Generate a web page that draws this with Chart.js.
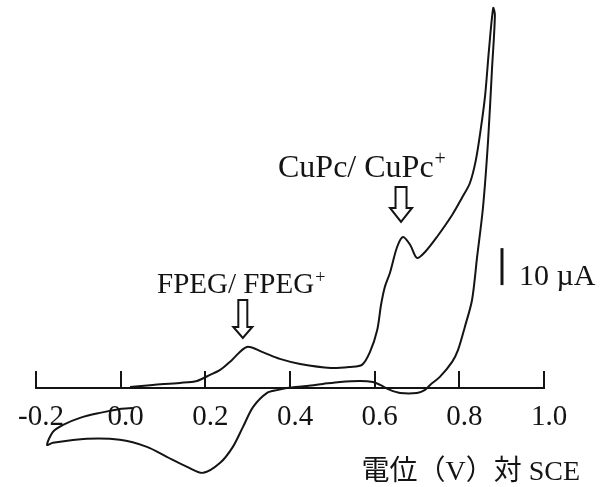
<!DOCTYPE html>
<html>
<head>
<meta charset="utf-8">
<script src="https://cdn.jsdelivr.net/npm/chart.js@4.4.1/dist/chart.umd.min.js"></script>
<style>
  html, body { margin: 0; padding: 0; background: #ffffff; }
  #wrap { width: 610px; height: 487px; position: relative; }
</style>
</head>
<body>
<div id="wrap"><canvas id="c" width="610" height="487"></canvas></div>
<script>
// Potential (V vs SCE) along the scan, in order
const potential = [
  0.022, 0.076, 0.140, 0.180, 0.211, 0.235, 0.263, 0.298, 0.334, 0.376,
  0.424, 0.497, 0.542, 0.570, 0.589, 0.606, 0.615, 0.624, 0.636, 0.653,
  0.667, 0.684, 0.700, 0.719, 0.747, 0.783, 0.806, 0.825, 0.839, 0.851,
  0.861, 0.870, 0.880,
  0.884, 0.877, 0.868, 0.856, 0.842, 0.830, 0.813, 0.797, 0.783, 0.754,
  0.731, 0.719, 0.700, 0.660, 0.636, 0.613, 0.596, 0.565, 0.518, 0.478,
  0.440, 0.393, 0.372, 0.346, 0.313, 0.289, 0.265, 0.235, 0.195, 0.157,
  0.109, 0.062, -0.002, -0.080, -0.160, -0.174,
  -0.160, -0.136, -0.096, -0.049, -0.002, 0.029
];
// Current (µA) at each point
const current = [
  0.27, 0.81, 1.35, 1.89, 3.51, 4.86, 7.57, 11.08, 9.73, 7.84,
  6.49, 5.41, 5.68, 6.22, 9.73, 15.68, 22.43, 27.30, 31.08, 38.11,
  40.81, 38.65, 35.14, 36.76, 40.81, 46.76, 51.35, 55.41, 61.60, 70.30,
  79.20, 91.40, 102.70,
  100.80, 85.90, 67.03, 48.92, 35.41, 23.78, 16.49, 10.27, 7.03, 2.97,
  0.81, -0.54, -1.35, -1.35, -0.54, 0.81, 1.62, 1.89, 1.62, 1.08,
  0.54, 0.00, -0.54, -1.35, -5.14, -10.54, -15.95, -20.27, -22.97, -21.35,
  -18.65, -15.95, -14.05, -13.78, -14.86, -15.41,
  -11.89, -10.00, -8.11, -6.76, -5.68, -5.41
];
const tickValues = [-0.2, 0.0, 0.2, 0.4, 0.6, 0.8, 1.0];
const tickLabels = ['-0.2', '0.0', '0.2', '0.4', '0.6', '0.8', '1.0'];
const xTitle = '電位（V）対 SCE';
const peakTexts = ['FPEG/ FPEG', 'CuPc/ CuPc'];
const peakSup = ['+', '+'];
const peakV = [0.298, 0.667];
const peakI = [11.08, 40.81];
const scaleBarValue = 10; // µA
const scaleBarLabel = '10 µA';

const points = potential.map((v, k) => ({ x: v, y: current[k] }));

const INK = '#141414';
const SERIF = "'Liberation Serif', 'DejaVu Serif', serif";

function downArrow(ctx, tipX, tipY, shaftW, shaftH, headW, headH) {
  ctx.beginPath();
  ctx.moveTo(tipX - shaftW / 2, tipY - headH - shaftH);
  ctx.lineTo(tipX + shaftW / 2, tipY - headH - shaftH);
  ctx.lineTo(tipX + shaftW / 2, tipY - headH);
  ctx.lineTo(tipX + headW / 2, tipY - headH);
  ctx.lineTo(tipX, tipY);
  ctx.lineTo(tipX - headW / 2, tipY - headH);
  ctx.lineTo(tipX - shaftW / 2, tipY - headH);
  ctx.closePath();
  ctx.stroke();
}

const decor = {
  id: 'decor',
  beforeDatasetsDraw(chart) {
    const ctx = chart.ctx;
    const xs = chart.scales.x, ys = chart.scales.y;
    const y0 = ys.getPixelForValue(0);
    ctx.save();
    ctx.strokeStyle = INK;
    ctx.lineWidth = 2;
    ctx.beginPath();
    ctx.moveTo(xs.getPixelForValue(tickValues[0]) - 1, y0);
    ctx.lineTo(xs.getPixelForValue(tickValues[tickValues.length - 1]) + 1, y0);
    ctx.stroke();
    tickValues.forEach((t) => {
      const px = Math.round(xs.getPixelForValue(t));
      ctx.beginPath();
      ctx.moveTo(px, y0);
      ctx.lineTo(px, y0 - 17);
      ctx.stroke();
    });
    ctx.restore();
  },
  afterDatasetsDraw(chart) {
    const ctx = chart.ctx;
    const xs = chart.scales.x, ys = chart.scales.y;
    const y0 = ys.getPixelForValue(0);
    ctx.save();
    ctx.fillStyle = INK;
    ctx.strokeStyle = INK;
    // tick labels
    ctx.font = '29px ' + SERIF;
    ctx.textAlign = 'center';
    ctx.textBaseline = 'alphabetic';
    tickValues.forEach((t, k) => {
      ctx.fillText(tickLabels[k], xs.getPixelForValue(t) + 5, y0 + 37);
    });
    // axis title
    ctx.font = "28px 'Liberation Serif', 'Noto Sans CJK JP', serif";
    ctx.textAlign = 'right';
    ctx.fillText(xTitle, 580, 480);

    // peak annotations (arrow + label)
    const cfg = [
      { font: 29, dx: -4, tipGap: 9, shaftW: 9, shaftH: 27, headW: 19, headH: 11, textLeft: 157, textBase: 293 },
      { font: 32, dx: -2, tipGap: 15, shaftW: 11, shaftH: 21, headW: 22, headH: 14, textLeft: 278, textBase: 177 }
    ];
    peakTexts.forEach((txt, k) => {
      const c = cfg[k];
      const px = xs.getPixelForValue(peakV[k]) + c.dx;
      const py = ys.getPixelForValue(peakI[k]);
      const tipY = py - c.tipGap;
      ctx.lineWidth = 2;
      downArrow(ctx, px, tipY, c.shaftW, c.shaftH, c.headW, c.headH);
      ctx.textAlign = 'left';
      ctx.font = c.font + 'px ' + SERIF;
      const w = ctx.measureText(txt).width;
      ctx.fillText(txt, c.textLeft, c.textBase);
      ctx.font = Math.round(c.font * 0.62) + 'px ' + SERIF;
      ctx.fillText(peakSup[k], c.textLeft + w + 1, c.textBase - c.font * 0.36);
    });

    // scale bar
    const barX = 502;
    const barBottom = ys.getPixelForValue(27.8);
    const barTop = ys.getPixelForValue(27.8 + scaleBarValue);
    ctx.lineWidth = 3;
    ctx.beginPath();
    ctx.moveTo(barX, barTop);
    ctx.lineTo(barX, barBottom);
    ctx.stroke();
    ctx.font = '30px ' + SERIF;
    ctx.textAlign = 'left';
    ctx.fillText(scaleBarLabel, 519, barBottom);
    ctx.restore();
  }
};

new Chart(document.getElementById('c'), {
  type: 'scatter',
  data: {
    datasets: [{
      data: points,
      showLine: true,
      borderColor: INK,
      borderWidth: 2,
      pointRadius: 0,
      tension: 0.3,
      fill: false,
      clip: false
    }]
  },
  options: {
    responsive: false,
    devicePixelRatio: 1,
    animation: false,
    layout: { padding: { left: 36, right: 66, top: 0, bottom: 0 } },
    plugins: { legend: { display: false }, tooltip: { enabled: false } },
    scales: {
      x: { type: 'linear', min: -0.2, max: 1.0, display: false },
      y: { type: 'linear', min: -26.8, max: 104.9, display: false }
    }
  },
  plugins: [decor]
});
</script>
</body>
</html>
